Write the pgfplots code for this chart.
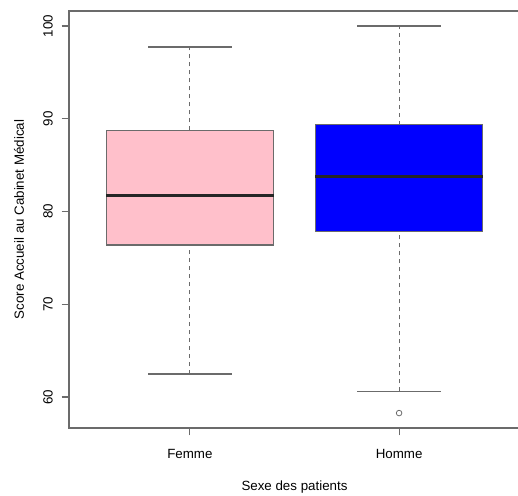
\documentclass[border=0pt]{standalone}
\usepackage{pgfplots}
\pgfplotsset{compat=1.18}
\usepackage{fontspec}
\setmainfont{Liberation Sans}
\definecolor{rpink}{HTML}{FFC0CB}
\definecolor{rblue}{HTML}{0000FF}
\definecolor{lc}{gray}{0.42}
\begin{document}
\fontsize{10pt}{12pt}\selectfont
\begin{tikzpicture}
\begin{axis}[
  scale only axis, width=338.25pt, height=312.75pt,
  xmin=0.422, xmax=2.578, ymin=56.66, ymax=101.62,
  xtick={1,2}, xticklabels={Femme,Homme},
  ytick={60,70,80,90,100},
  tick pos=left,
  tick align=outside, major tick length=5.5pt,
  tick style={lc, line width=0.8pt},
  axis line style={lc, line width=0.8pt},
  /pgf/number format/assume math mode=true,
  font=\fontsize{10pt}{12pt}\selectfont,
  yticklabel style={xshift=-6.75pt, rotate=90, anchor=base, inner sep=0pt},
  xticklabel style={anchor=base, inner sep=0pt, yshift=-17.25pt},
  xlabel={Sexe des patients},
  ylabel={Score Accueil au Cabinet Médical},
  every axis x label/.style={at={(axis description cs:0.5,-0.151)}, anchor=base},
  every axis y label/.style={at={(axis description cs:-0.0998,0.5)}, rotate=90, anchor=base},
  clip=false,
]
% Femme
\addplot[lc, line width=0.8pt, dash pattern=on 3pt off 3pt] coordinates {(1,88.75) (1,97.74)};
\addplot[lc, line width=0.8pt, dash pattern=on 3pt off 3pt] coordinates {(1,62.48) (1,76.39)};
\addplot[lc, line width=0.8pt] coordinates {(0.8,97.74) (1.2,97.74)};
\addplot[lc, line width=0.8pt] coordinates {(0.8,62.48) (1.2,62.48)};
\addplot[fill=rpink, draw=lc, line width=0.8pt] coordinates {(0.6,76.39) (1.4,76.39) (1.4,88.75) (0.6,88.75) (0.6,76.39)} -- cycle;
\addplot[black!85, line width=1.9pt] coordinates {(0.6,81.7) (1.4,81.7)};
% Homme
\addplot[lc, line width=0.8pt, dash pattern=on 3pt off 3pt] coordinates {(2,89.36) (2,100)};
\addplot[lc, line width=0.8pt, dash pattern=on 3pt off 3pt] coordinates {(2,60.6) (2,77.8)};
\addplot[lc, line width=0.8pt] coordinates {(1.8,100) (2.2,100)};
\addplot[lc, line width=0.8pt] coordinates {(1.8,60.6) (2.2,60.6)};
\addplot[fill=rblue, draw=lc, line width=0.8pt] coordinates {(1.6,77.8) (2.4,77.8) (2.4,89.36) (1.6,89.36) (1.6,77.8)} -- cycle;
\addplot[black!85, line width=1.9pt] coordinates {(1.6,83.77) (2.4,83.77)};
\addplot[only marks, mark=o, mark size=2.1pt, mark options={lc, line width=0.6pt}] coordinates {(2,58.27)};
\end{axis}
\pgfresetboundingbox
\useasboundingbox ([shift={(-51.75pt,-51pt)}]current axis.south west) rectangle ([shift={(336.75pt,321pt)}]current axis.south west);
\end{tikzpicture}
\end{document}
